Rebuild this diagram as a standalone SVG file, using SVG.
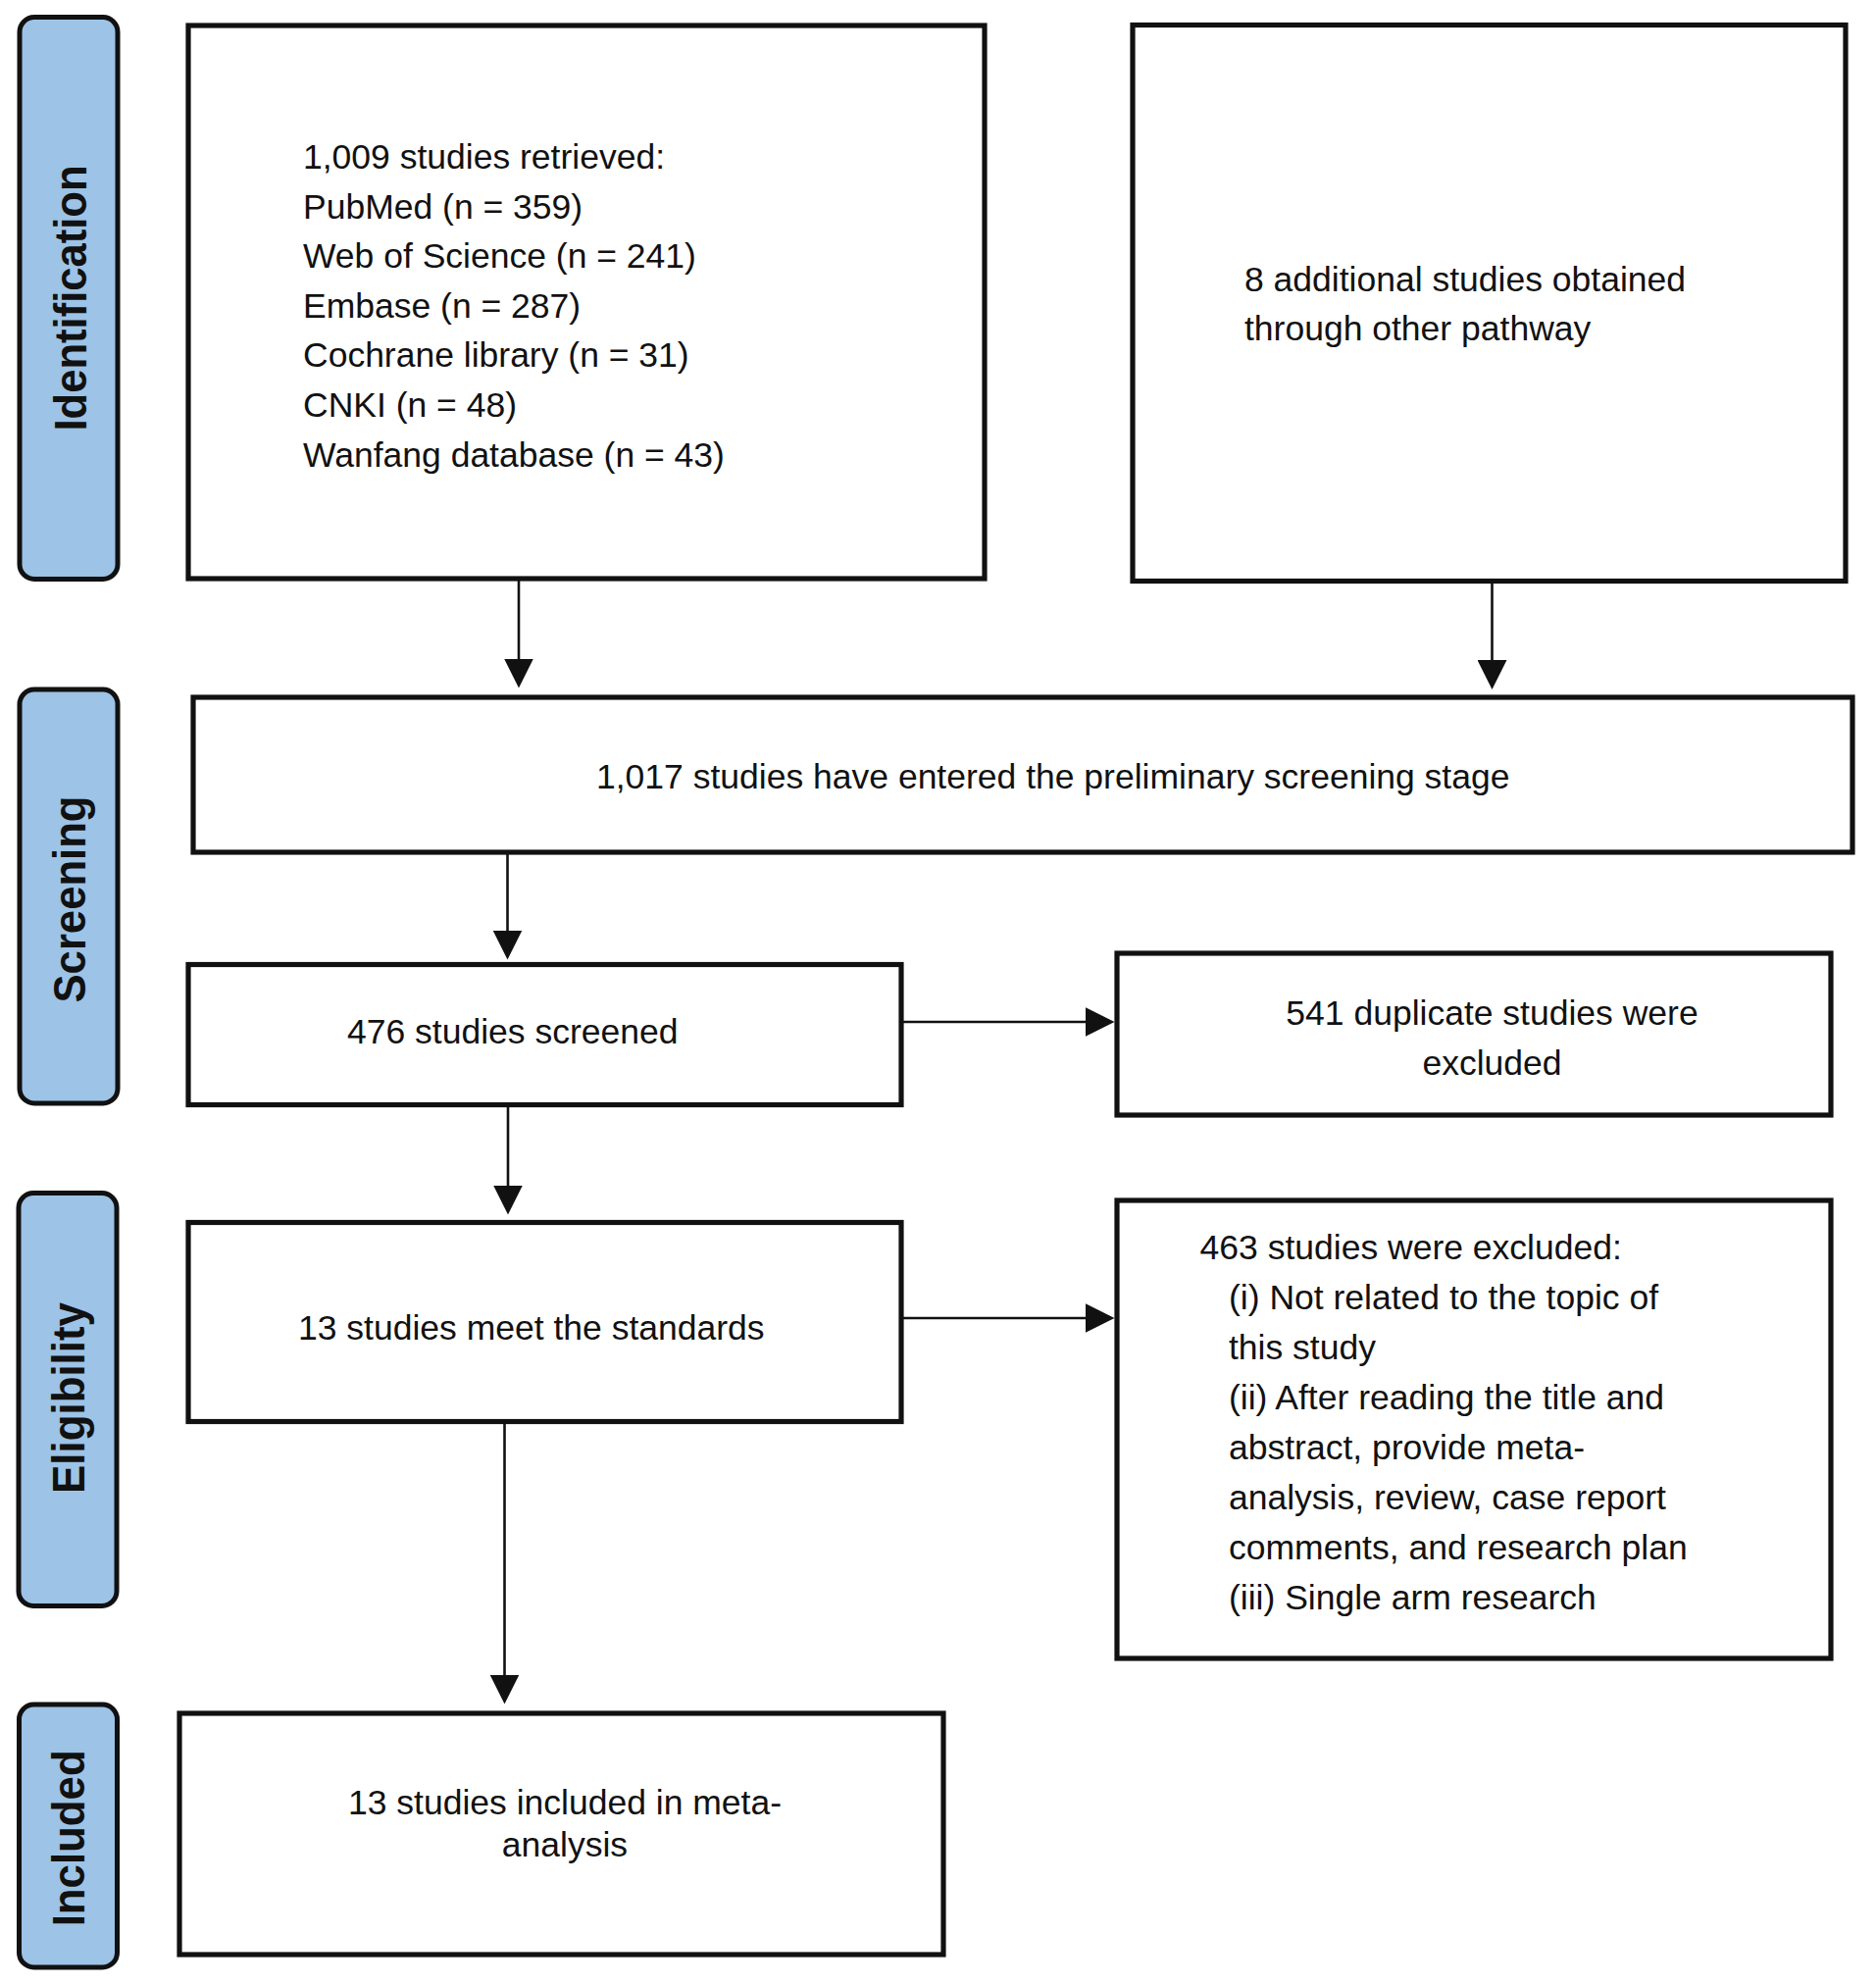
<svg xmlns="http://www.w3.org/2000/svg" width="1913" height="2023" viewBox="0 0 1913 2023">
<style>
  .box { fill: #ffffff; stroke: #111111; stroke-width: 5.2; }
  .tab { fill: #9dc3e6; stroke: #111111; stroke-width: 5; }
  .t { font-family: "Liberation Sans", Arial, Helvetica, sans-serif; font-size: 35.5px; fill: #111111; }
  .tabt { font-family: "Liberation Sans", Arial, Helvetica, sans-serif; font-size: 46.5px; font-weight: bold; fill: #111111; }
  .c { text-anchor: middle; }
  .conn { stroke: #111111; stroke-width: 2.6; fill: none; marker-end: url(#ah); }
</style>
<defs>
  <marker id="ah" markerUnits="userSpaceOnUse" markerWidth="30" markerHeight="30" viewBox="0 0 29 29" refX="14" refY="14.5" orient="auto">
    <path d="M0,0 L29,14.5 L0,29 Z" fill="#111111"/>
  </marker>
</defs>
<rect width="1913" height="2023" fill="#ffffff"/>

<g id="tab-identification">
  <rect class="tab" x="20" y="17.5" width="100" height="573" rx="15" ry="15"/>
  <text class="tabt" transform="translate(88,304) rotate(-90)" text-anchor="middle" textLength="271" lengthAdjust="spacingAndGlyphs">Identification</text>
</g>
<g id="tab-screening">
  <rect class="tab" x="20" y="703" width="100" height="422" rx="15" ry="15"/>
  <text class="tabt" transform="translate(87,917) rotate(-90)" text-anchor="middle" textLength="211" lengthAdjust="spacingAndGlyphs">Screening</text>
</g>
<g id="tab-eligibility">
  <rect class="tab" x="19" y="1216.5" width="100" height="421" rx="15" ry="15"/>
  <text class="tabt" transform="translate(86,1425.5) rotate(-90)" text-anchor="middle" textLength="195" lengthAdjust="spacingAndGlyphs">Eligibility</text>
</g>
<g id="tab-included">
  <rect class="tab" x="19.5" y="1738" width="100" height="268" rx="15" ry="15"/>
  <text class="tabt" transform="translate(86,1874.3) rotate(-90)" text-anchor="middle" textLength="180" lengthAdjust="spacingAndGlyphs">Included</text>
</g>

<g id="node-retrieved">
  <rect class="box" x="192" y="26" width="812" height="564"/>
  <text class="t" x="309" y="172">1,009 studies retrieved:</text>
  <text class="t" x="309" y="222.6">PubMed (n = 359)</text>
  <text class="t" x="309" y="273.2">Web of Science (n = 241)</text>
  <text class="t" x="309" y="323.8">Embase (n = 287)</text>
  <text class="t" x="309" y="374.4">Cochrane library (n = 31)</text>
  <text class="t" x="309" y="425">CNKI (n = 48)</text>
  <text class="t" x="309" y="475.6">Wanfang database (n = 43)</text>
</g>
<g id="node-additional">
  <rect class="box" x="1155" y="25.5" width="727" height="567"/>
  <text class="t" x="1269" y="296.5">8 additional studies obtained</text>
  <text class="t" x="1269" y="347">through other pathway</text>
</g>
<g id="node-preliminary">
  <rect class="box" x="197" y="711" width="1692" height="158"/>
  <text class="t" x="608" y="803.5">1,017 studies have entered the preliminary screening stage</text>
</g>
<g id="node-screened">
  <rect class="box" x="192" y="983.5" width="727" height="143"/>
  <text class="t" x="354" y="1064">476 studies screened</text>
</g>
<g id="node-duplicates">
  <rect class="box" x="1139" y="972" width="728" height="165"/>
  <text class="t c" x="1521.5" y="1045.4">541 duplicate studies were</text>
  <text class="t c" x="1521.5" y="1095.6">excluded</text>
</g>
<g id="node-standards">
  <rect class="box" x="192" y="1246.5" width="727" height="203"/>
  <text class="t" x="304" y="1365.5">13 studies meet the standards</text>
</g>
<g id="node-excluded">
  <rect class="box" x="1139" y="1224" width="728" height="467"/>
  <text class="t" x="1223.6" y="1284">463 studies were excluded:</text>
  <text class="t" x="1253" y="1335">(i) Not related to the topic of</text>
  <text class="t" x="1253" y="1386">this study</text>
  <text class="t" x="1253" y="1437">(ii) After reading the title and</text>
  <text class="t" x="1253" y="1488">abstract, provide meta-</text>
  <text class="t" x="1253" y="1539">analysis, review, case report</text>
  <text class="t" x="1253" y="1590">comments, and research plan</text>
  <text class="t" x="1253" y="1641">(iii) Single arm research</text>
</g>
<g id="node-included">
  <rect class="box" x="183" y="1747" width="779" height="246"/>
  <text class="t c" x="576" y="1850">13 studies included in meta-</text>
  <text class="t c" x="576" y="1892.5">analysis</text>
</g>

<g id="connectors">
  <line class="conn" x1="529" y1="592" x2="529" y2="686"/>
  <line class="conn" x1="1521.5" y1="595" x2="1521.5" y2="687.5"/>
  <line class="conn" x1="517.5" y1="871" x2="517.5" y2="963"/>
  <line class="conn" x1="518" y1="1128" x2="518" y2="1223"/>
  <line class="conn" x1="514.5" y1="1451" x2="514.5" y2="1722"/>
  <line class="conn" x1="921" y1="1042" x2="1121" y2="1042"/>
  <line class="conn" x1="921" y1="1344" x2="1121" y2="1344"/>
</g>
</svg>
